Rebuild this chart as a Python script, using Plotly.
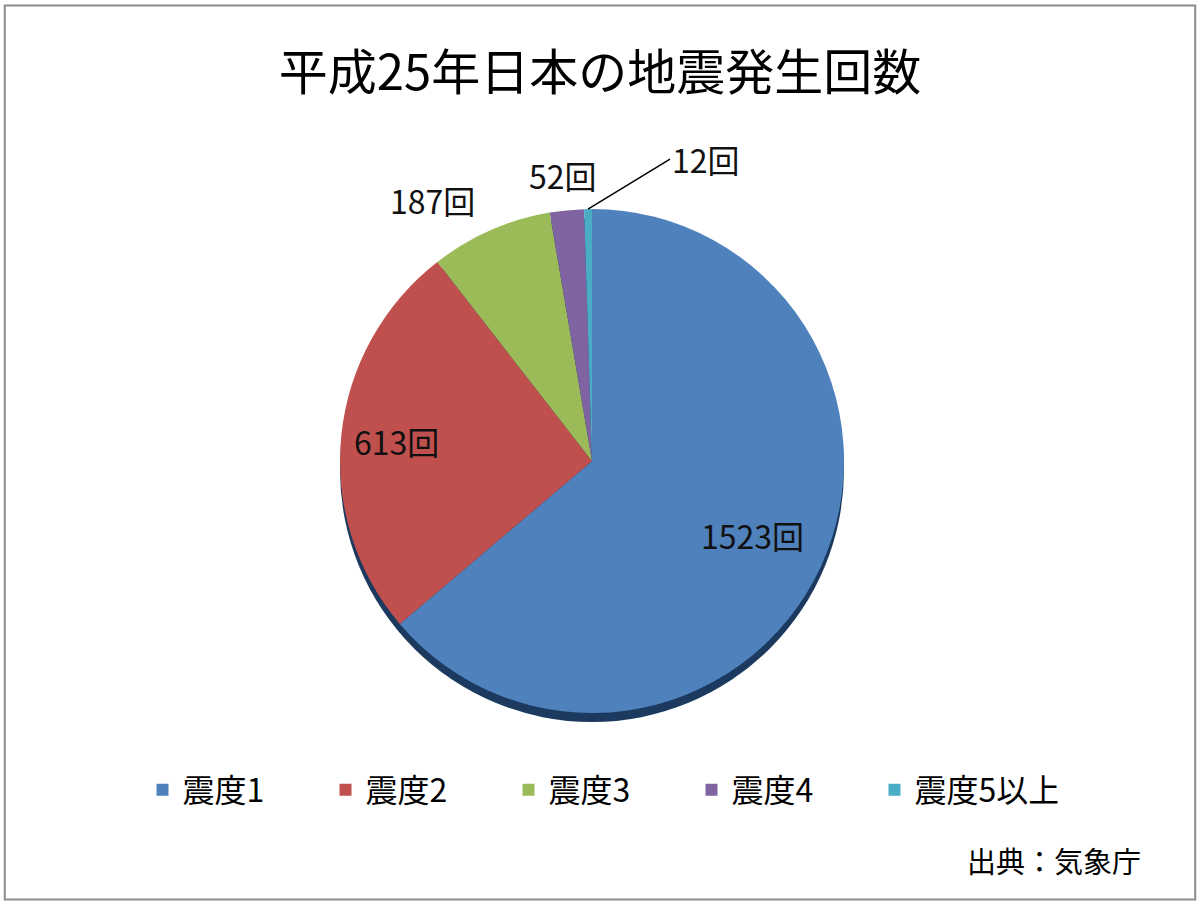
import math
import plotly.graph_objects as go

labels = ["震度1", "震度2", "震度3", "震度4", "震度5以上"]
values = [1523, 613, 187, 52, 12]
colors = ["#4F81BD", "#C0504D", "#9BBB59", "#8064A2", "#4BACC6"]
title_text = "平成25年日本の地震発生回数"
source_text = "出典：気象庁"
unit = "回"

W, H = 1200, 905
cx, cy, r = 592, 461, 252
FONT = "Noto Sans CJK JP"

def dom(cx, cy, r):
    return dict(x=[(cx - r) / W, (cx + r) / W], y=[1 - (cy + r) / H, 1 - (cy - r) / H])

fig = go.Figure()
# shadow under the pie
fig.add_trace(go.Pie(
    labels=["shadow"], values=[1], marker=dict(colors=["#1C3A5F"]),
    textinfo="none", hoverinfo="skip", showlegend=False, sort=False,
    domain=dom(cx, cy + 9, r),
))
fig.add_trace(go.Pie(
    labels=labels, values=values, sort=False, direction="clockwise", rotation=0,
    marker=dict(colors=colors, line=dict(width=0)),
    textinfo="none", hoverinfo="label+value",
    domain=dom(cx, cy, r),
))

# data labels placed at each slice's mid angle (derived from the values)
total = sum(values)
cum = 0
mids = []
for v in values:
    mids.append((cum + v / 2) / total * 2 * math.pi)
    cum += v

# label style: radial factor, anchor, arrow offsets
label_styles = [
    dict(k=0.70, xanchor="center", arrow=False),
    dict(k=0.78, xanchor="center", arrow=False),
    dict(k=1.13, xanchor="right", arrow=False),
    dict(k=1.14, xanchor="center", arrow=False),
    dict(k=1.0, xanchor="left", arrow=True, ax=82, ay=-50),
]

annotations = []
for v, a, st in zip(values, mids, label_styles):
    px = cx + st["k"] * r * math.sin(a)
    py = cy - st["k"] * r * math.cos(a)
    ann = dict(text=f"{v}{unit}", xref="paper", yref="paper", x=px / W, y=1 - py / H,
               xanchor=st["xanchor"], yanchor="middle",
               font=dict(family=FONT, size=32, color="#111111"))
    if st["arrow"]:
        ann.update(showarrow=True, arrowhead=0, arrowwidth=1.5, arrowcolor="#000000",
                   axref="pixel", ayref="pixel", ax=st["ax"], ay=st["ay"], standoff=0)
    else:
        ann.update(showarrow=False)
    annotations.append(ann)

annotations.append(dict(text=source_text, xref="paper", yref="paper", x=1 - 57 / W, y=1 - 860 / H,
                        xanchor="right", yanchor="middle", showarrow=False,
                        font=dict(family=FONT, size=29, color="#000000")))

fig.update_layout(
    width=W, height=H,
    margin=dict(l=0, r=0, t=0, b=0),
    paper_bgcolor="white", plot_bgcolor="white",
    title=dict(text=title_text, x=0.5, xanchor="center", y=1 - 73 / H, yanchor="middle",
               font=dict(family=FONT, size=49, color="#000000")),
    legend=dict(orientation="h", x=0.5, xanchor="center", y=1 - 790 / H, yanchor="middle",
                font=dict(family=FONT, size=32, color="#000000"),
                entrywidth=138, itemwidth=30, traceorder="normal"),
    shapes=[dict(type="rect", xref="paper", yref="paper", x0=0.004, x1=0.996, y0=0.006, y1=0.994,
                 line=dict(color="#8C8C8C", width=2))],
    annotations=annotations,
)

fig.write_html("out.html")
